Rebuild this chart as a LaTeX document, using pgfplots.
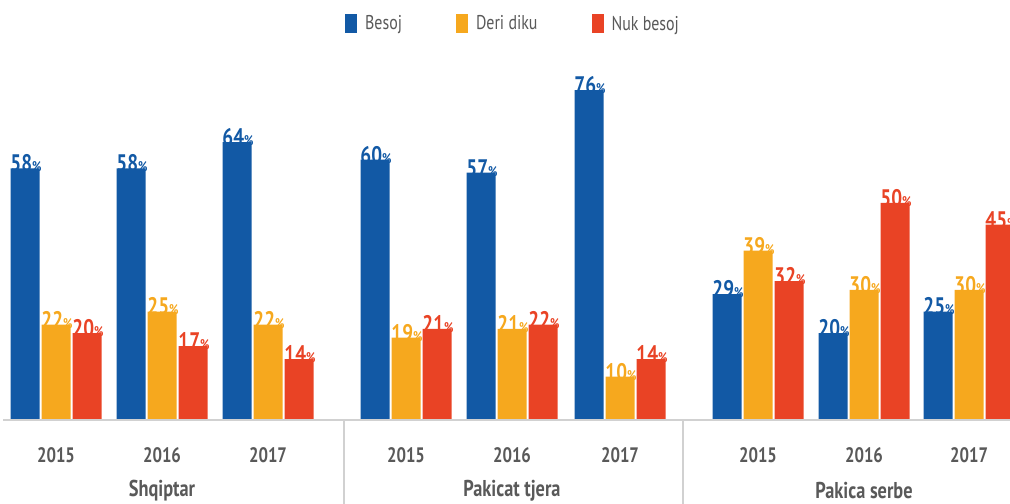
\documentclass[border=0pt]{standalone}
\usepackage{pgfplots}
\pgfplotsset{compat=1.18}
\usepackage{fontspec}
\setmainfont{PT Sans}[FakeStretch=0.8]
\definecolor{cblue}{HTML}{1259A5}
\definecolor{corange}{HTML}{F6A81E}
\definecolor{cred}{HTML}{E94325}
\definecolor{ctext}{HTML}{595959}
\tikzset{lab/.style={font=\fontsize{21}{21}\selectfont\bfseries, color=ctext},
         glab/.style={font=\fontsize{23}{23}\selectfont\bfseries, color=ctext}}
\begin{document}
\begin{tikzpicture}
\begin{axis}[
  scale only axis, width=1010bp, height=504bp,
  xmin=0, xmax=1010, ymin=-19.35, ymax=96.77,
  hide axis, clip=false,
  ybar, bar width=29,
  point meta=y,
  /pgf/number format/assume math mode=true,
  nodes near coords={\textbf{\pgfmathprintnumber{\pgfplotspointmeta}{\fontsize{14}{14}\selectfont\%}}},
  every node near coord/.append style={font=\fontsize{24}{24}\selectfont\bfseries, anchor=south, yshift=-5bp, xshift=1bp, inner sep=1bp},
  legend columns=3,
  legend style={draw=none, at={(0.508,0.953)}, anchor=center, font=\fontsize{20}{20}\selectfont\color{ctext},
    /tikz/every odd column/.append style={column sep=6bp},
    /tikz/every even column/.append style={column sep=52bp}},
  legend image code/.code={\fill[#1] (0bp,-9.5bp) rectangle (12bp,9.5bp);},
]
\addplot[fill=cblue, draw=none, bar shift=-31, nodes near coords style={color=cblue}] coordinates {
(56,58) (162,58) (268,64) (406,60) (512,57) (620,76) (758,29) (864,20) (969,25)};
\addplot[fill=corange, draw=none, bar shift=0, nodes near coords style={color=corange}] coordinates {
(56,22) (162,25) (268,22) (406,19) (512,21) (620,10) (758,39) (864,30) (969,30)};
\addplot[fill=cred, draw=none, bar shift=31, nodes near coords style={color=cred}] coordinates {
(56,20) (162,17) (268,14) (406,21) (512,22) (620,14) (758,32) (864,50) (969,45)};
\legend{Besoj, Deri diku, Nuk besoj}
\draw[black!18, line width=2bp] (axis cs:3,0) -- (axis cs:1010,0);
\draw[black!18, line width=1.2bp] (axis cs:344,0) -- (axis cs:344,-19.35);
\draw[black!18, line width=1.2bp] (axis cs:683,0) -- (axis cs:683,-19.35);
\node[lab] at (axis cs:56,-8.1) {2015};
\node[lab] at (axis cs:406,-8.1) {2015};
\node[lab] at (axis cs:758,-8.1) {2015};
\node[lab] at (axis cs:162,-8.1) {2016};
\node[lab] at (axis cs:512,-8.1) {2016};
\node[lab] at (axis cs:864,-8.1) {2016};
\node[lab] at (axis cs:268,-8.1) {2017};
\node[lab] at (axis cs:620,-8.1) {2017};
\node[lab] at (axis cs:969,-8.1) {2017};
\node[glab] at (axis cs:162,-16.3) {Shqiptar};
\node[glab] at (axis cs:512,-16.3) {Pakicat tjera};
\node[glab] at (axis cs:864,-16.3) {Pakica serbe};
\end{axis}
\pgfresetboundingbox
\path[use as bounding box] (current axis.south west) rectangle (current axis.north east);
\end{tikzpicture}
\end{document}
